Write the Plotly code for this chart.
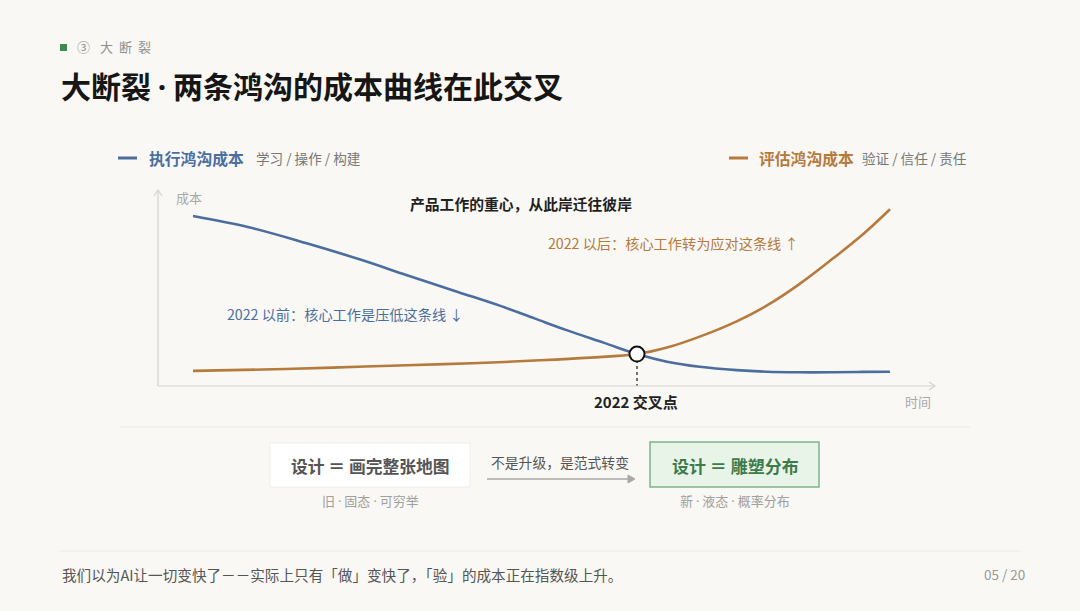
import plotly.graph_objects as go

W, H = 1080, 611

# ---- data ----
t_exec = [0.0, 0.8, 1.63, 2.4, 3.07, 3.8, 4.40, 4.9, 5.36, 5.9, 6.37, 6.8, 7.27, 7.8, 8.23, 8.7, 9.18, 9.6, 10.0]
exec_cost = [86.7, 81.0, 72.8, 64.5, 56.5, 48.0, 41.0, 34.5, 28.5, 22.0, 16.3, 12.4, 9.8, 8.1, 7.3, 7.0, 7.0, 7.2, 7.3]

t_eval = [0.0, 1.0, 2.0, 3.07, 4.0, 4.98, 5.7, 6.37, 6.8, 7.27, 7.8, 8.23, 8.7, 9.18, 9.6, 10.0]
eval_cost = [7.7, 8.4, 9.4, 10.6, 11.6, 13.1, 14.5, 16.3, 19.6, 25.2, 33.0, 41.0, 52.0, 65.0, 77.0, 90.2]

cross_t = [6.37]
cross_v = [16.3]

BG = "#f9f8f4"
BLUE = "#4b6e9f"
ORANGE = "#b67a3c"
GREEN = "#3e7b4b"
DARK = "#1f1f1f"
FONT = "Noto Sans CJK SC"
DOT = "<span style='font-family:Noto Sans'>·</span>"


def px(x):
    return x / W


def py(y):
    return 1 - y / H


# axis pixel geometry
AX_L, AX_R = 158, 935
AX_T, AX_B = 190, 386
T0_PX, T10_PX = 193, 890
unit = (T10_PX - T0_PX) / 10.0
x_range = [(AX_L - T0_PX) / unit, (AX_R - T0_PX) / unit]

fig = go.Figure()

# dotted drop line from crossing to axis
fig.add_trace(go.Scatter(x=[cross_t[0], cross_t[0]], y=[cross_v[0], 0], mode="lines",
                         line=dict(color="#444444", width=1.5, dash="dot"),
                         hoverinfo="skip", showlegend=False))

fig.add_trace(go.Scatter(x=t_eval, y=eval_cost, mode="lines",
                         line=dict(color=ORANGE, width=2.6, shape="spline", smoothing=1.0),
                         name="评估鸿沟成本", showlegend=False))
fig.add_trace(go.Scatter(x=t_exec, y=exec_cost, mode="lines",
                         line=dict(color=BLUE, width=2.6, shape="spline", smoothing=1.0),
                         name="执行鸿沟成本", showlegend=False))
fig.add_trace(go.Scatter(x=cross_t, y=cross_v, mode="markers",
                         marker=dict(size=15, color="white", line=dict(color="#111111", width=2)),
                         showlegend=False, hoverinfo="skip"))

shapes = []
annotations = []


def text(x, y, s, size=13, color=DARK, bold=False, xanchor="left", family=FONT):
    if bold:
        s = "<b>" + s + "</b>"
    annotations.append(dict(x=px(x), y=py(y), xref="paper", yref="paper", text=s, showarrow=False,
                            xanchor=xanchor, yanchor="middle",
                            font=dict(size=size, color=color, family=family)))


def hline(x0, x1, y, color, width=1):
    shapes.append(dict(type="line", xref="paper", yref="paper", x0=px(x0), x1=px(x1), y0=py(y), y1=py(y),
                       line=dict(color=color, width=width)))


def vline(x, y0, y1, color, width=1):
    shapes.append(dict(type="line", xref="paper", yref="paper", x0=px(x), x1=px(x), y0=py(y0), y1=py(y1),
                       line=dict(color=color, width=width)))


def path(points, color, width=1):
    d = "M " + " L ".join(f"{px(a):.5f},{py(b):.5f}" for a, b in points)
    shapes.append(dict(type="path", xref="paper", yref="paper", path=d,
                       line=dict(color=color, width=width)))


def rect(x0, y0, x1, y1, fill, line, lw=1):
    shapes.append(dict(type="rect", xref="paper", yref="paper", x0=px(x0), x1=px(x1), y0=py(y1), y1=py(y0),
                       fillcolor=fill, line=dict(color=line, width=lw), layer="below"))


# header
rect(60, 44, 67, 51, "#3e8a4e", "#3e8a4e", 0)
for cx, ch in [(83, "③"), (106, "大"), (125, "断"), (144, "裂")]:
    text(cx, 47, ch, size=13, color="#8f8f8f", xanchor="center")
text(59, 85, "大断裂 " + DOT + " 两条鸿沟的成本曲线在此交叉", size=30, color="#161616", bold=True)

# legend
hline(118, 137, 158, BLUE, 3)
text(147, 158, "执行鸿沟成本", size=15.8, color=BLUE, bold=True)
text(254, 158, "学习 / 操作 / 构建", size=13.6, color="#777777")
hline(729, 748, 158, ORANGE, 3)
text(757, 158, "评估鸿沟成本", size=15.8, color=ORANGE, bold=True)
text(969, 158, "验证 / 信任 / 责任", size=13.6, color="#777777", xanchor="right")

# axes
axis_col = "#d3d3d3"
vline(AX_L, AX_B, AX_T, axis_col, 1.2)
hline(AX_L, AX_R, AX_B, axis_col, 1.2)
path([(AX_L - 4, AX_T + 6), (AX_L, AX_T), (AX_L + 4, AX_T + 6)], axis_col, 1.2)
path([(AX_R - 6, AX_B - 4), (AX_R, AX_B), (AX_R - 6, AX_B + 4)], axis_col, 1.2)
text(174, 198, "成本", size=13, color="#a8a8a8")
text(933, 401, "时间", size=13, color="#a8a8a8", xanchor="right")

# chart annotations
text(521, 204, "产品工作的重心，从此岸迁往彼岸", size=14.8, color=DARK, bold=True, xanchor="center")
text(546, 243, "2022 以后：核心工作转为应对这条线 ↑", size=14.2, color=ORANGE)
text(225, 314, "2022 以前：核心工作是压低这条线 ↓", size=14.2, color=BLUE)
text(636, 401, "2022 交叉点", size=15, color="#222222", bold=True, xanchor="center")

# separator
hline(120, 970, 427, "#ebebe6", 1)

# bottom comparison
rect(270, 443, 470, 487, "#ffffff", "#efefea", 1)
text(370, 466, "设计 ＝ 画完整张地图", size=16.8, color="#555555", bold=True, xanchor="center")
text(370, 501, "旧 " + DOT + " 固态 " + DOT + " 可穷举", size=13, color="#a0a0a0", xanchor="center")

text(560, 462, "不是升级，是范式转变", size=13.8, color="#555555", xanchor="center")
hline(487, 630, 479, "#a8a8a8", 1.5)
shapes.append(dict(type="path", xref="paper", yref="paper",
                   path=f"M {px(628):.5f},{py(475):.5f} L {px(635):.5f},{py(479):.5f} L {px(628):.5f},{py(483):.5f} Z",
                   fillcolor="#a8a8a8", line=dict(color="#a8a8a8", width=1)))

rect(650, 442, 819, 487, "#e9f4e8", "#7db38a", 1.5)
text(735, 466, "设计 ＝ 雕塑分布", size=17, color=GREEN, bold=True, xanchor="center")
text(735, 501, "新 " + DOT + " 液态 " + DOT + " 概率分布", size=13, color="#a0a0a0", xanchor="center")

# footer
hline(60, 1020, 551, "#ebebe6", 1)
text(60, 574, "我们以为AI让一切变快了－－实际上只有「做」变快了，「验」的成本正在指数级上升。", size=14.6, color="#555555")
text(1027, 574, "05 / 20", size=13.5, color="#999999", xanchor="right")

fig.update_layout(
    width=W, height=H,
    margin=dict(l=0, r=0, t=0, b=0),
    paper_bgcolor=BG, plot_bgcolor=BG,
    shapes=shapes, annotations=annotations,
    showlegend=False,
    xaxis=dict(domain=[px(AX_L), px(AX_R)], range=x_range, visible=False, fixedrange=True),
    yaxis=dict(domain=[py(AX_B), py(AX_T)], range=[0, 100], visible=False, fixedrange=True),
    font=dict(family=FONT),
)

fig.write_html("out.html", config=dict(displayModeBar=False),
               post_script="document.body.style.margin='0px';document.body.style.background='" + BG + "';")
